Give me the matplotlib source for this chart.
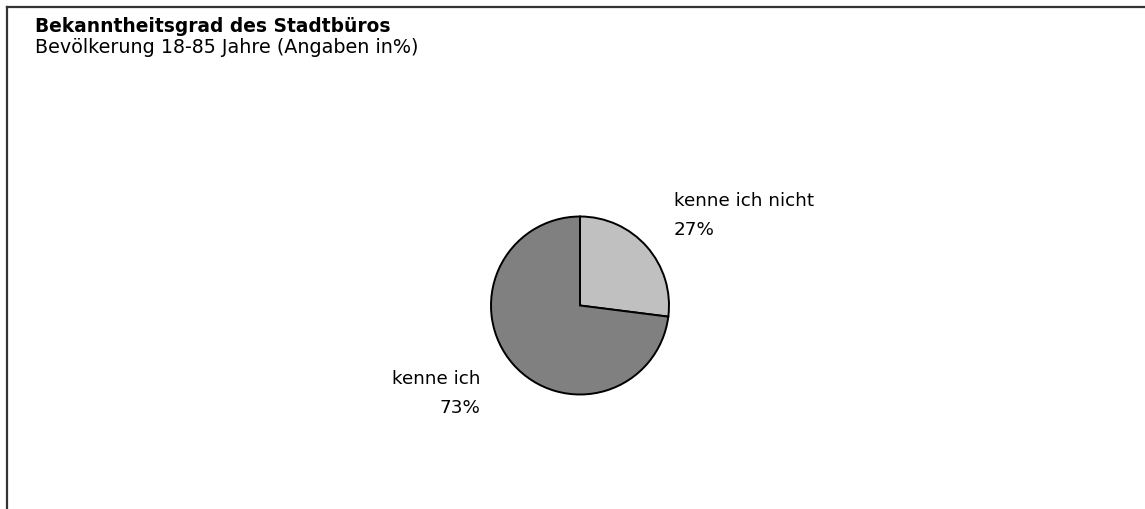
import matplotlib
matplotlib.use("Agg")
import matplotlib.pyplot as plt
from matplotlib.lines import Line2D

W, H = 1145, 509

title = "Bekanntheitsgrad des Stadtbüros"
subtitle = "Bevölkerung 18-85 Jahre (Angaben in%)"
labels = ["kenne ich nicht", "kenne ich"]
shares = [27, 73]
colors = ["#c0c0c0", "#808080"]

plt.rcParams["font.family"] = ["DejaVu Sans"]

fig = plt.figure(figsize=(W / 100, H / 100), dpi=100)
ax = fig.add_axes([0, 0, 1, 1])

# pie in pixel coordinates (y measured from the bottom)
ax.pie(shares, colors=colors, startangle=90, counterclock=False,
       center=(580, H - 305.5), radius=89,
       wedgeprops=dict(edgecolor="black", linewidth=1.4))
ax.set_xlim(0, W)
ax.set_ylim(0, H)
ax.set_aspect("auto")
ax.axis("off")

fs = 13.2
ax.text(674, H - 206, labels[0], fontsize=fs, ha="left", va="baseline")
ax.text(674, H - 235, f"{shares[0]}%", fontsize=fs, ha="left", va="baseline")
ax.text(480, H - 384, labels[1], fontsize=fs, ha="right", va="baseline")
ax.text(480, H - 413, f"{shares[1]}%", fontsize=fs, ha="right", va="baseline")

ax.text(35, H - 32, title, fontsize=13.45, fontweight="bold", ha="left", va="baseline")
ax.text(35, H - 52.7, subtitle, fontsize=13.75, ha="left", va="baseline")

# frame: top and left edges only
fig.add_artist(Line2D([7 / W, 1], [1 - 7 / H, 1 - 7 / H], color="#333333", lw=1.6))
fig.add_artist(Line2D([7 / W, 7 / W], [0, 1 - 7 / H], color="#333333", lw=1.6))

fig.savefig("out.png", dpi=100)
